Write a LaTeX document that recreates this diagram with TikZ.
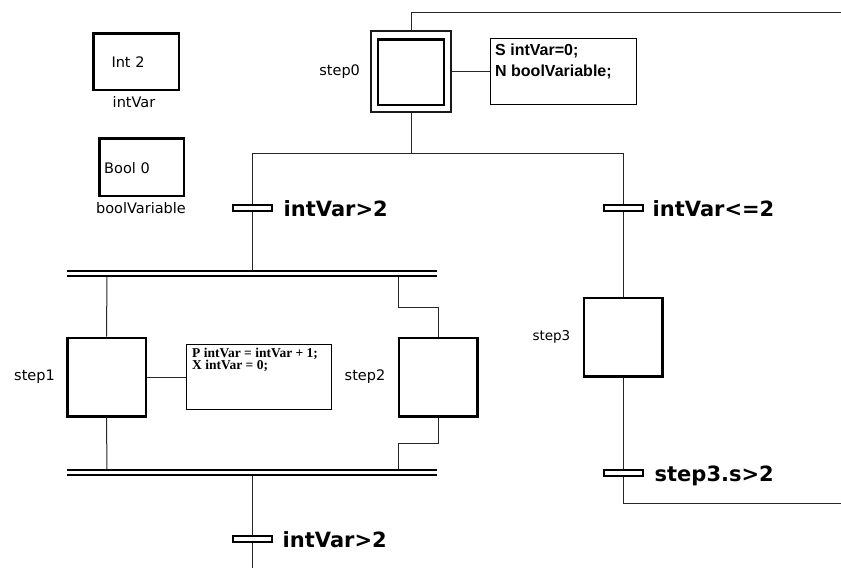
\documentclass[tikz,border=0pt]{standalone}
\usepackage{fontspec}
\setmainfont{DejaVu Sans}
\newfontfamily\actsansfont{Liberation Sans}
\newfontfamily\actseriffont{Liberation Serif}
\usetikzlibrary{calc,positioning}
\begin{document}
\begin{tikzpicture}[x=1pt,y=-1pt,
  conn/.style={line width=1pt, draw=black!85},
  stepbox/.style={draw=black, line width=2.5pt, fill=white, minimum width=78.5pt, minimum height=78.5pt, inner sep=0pt},
  initouter/.style={draw=black!90, line width=2.2pt, fill=white, minimum width=79.5pt, minimum height=80.5pt, inner sep=0pt},
  initinner/.style={draw=black, line width=2.5pt, fill=white, minimum width=66pt, minimum height=65.5pt, inner sep=0pt},
  actbox/.style={draw=black, line width=1.2pt, fill=white, inner sep=0pt},
  varbox/.style={draw=black, line width=2.5pt, inner sep=0pt},
  lbl/.style={font=\fontsize{14.5}{17}\selectfont, inner sep=0pt},
  trbar/.style={draw=black, line width=2pt, fill=white, minimum width=39pt, minimum height=6pt, inner sep=0pt},
  trlbl/.style={font=\fontsize{21}{25}\selectfont\bfseries, inner sep=0pt, anchor=base west},
  syncbar/.style={line width=1.5pt, draw=black}
]
\useasboundingbox (0,0) rectangle (841,568);

% variables
\node[varbox, minimum width=85.5pt, minimum height=56.5pt] (vint) at (136,61.5) {};
\node[lbl] (vinttext) at (128,62) {Int 2};
\node[lbl] (vintname) at (134,102) {intVar};
\node[varbox, minimum width=84.5pt, minimum height=57.5pt] (vbool) at (141.5,167) {};
\node[lbl, anchor=west] (vbooltext) at (104,168) {Bool 0};
\node[lbl] (vboolname) at (141,208) {boolVariable};

% coordinates for the connectors
\coordinate (topright) at (841,12);
\coordinate (topleft) at (411,12);
\coordinate (splitmid) at (411,153);
\coordinate (splitL) at (252,153);
\coordinate (splitR) at (623,153);
\coordinate (sync1top) at (252,271);
\coordinate (s1up) at (107,276);
\coordinate (s2upa) at (398,276);
\coordinate (s2upb) at (398,307);
\coordinate (s2upc) at (438,307);
\coordinate (s1down) at (107,470);
\coordinate (s2dna) at (438,443);
\coordinate (s2dnb) at (398,443);
\coordinate (s2dnc) at (398,470);
\coordinate (sync2bot) at (252,475);
\coordinate (bottomend) at (252,568);
\coordinate (loopa) at (623,503);
\coordinate (loopb) at (841,503);

% step 0
\node[initouter] (step0) at (411,71.5) {};
\node[initinner] (step0in) at (411,72) {};
\node[lbl, left=10pt of step0] (step0lbl) {step0};
\node[actbox, minimum width=146pt, minimum height=66pt] (act0) at (563.5,71.5) {};
\node[anchor=north west, inner sep=0pt, align=left,
      font=\actsansfont\bfseries\fontsize{16}{21.5}\selectfont] (act0text) at (495,43.5)
      {S intVar=0;\\N boolVariable;};

% steps
\node[stepbox] (step1) at (106.5,377) {};
\node[lbl, left=11pt of step1] (step1lbl) {step1};
\node[actbox, minimum width=145pt, minimum height=65pt] (act1) at (259,377) {};
\node[anchor=north west, inner sep=0pt, align=left,
      font=\actseriffont\bfseries\fontsize{13.5}{12.3}\selectfont] (act1text) at (192,348)
      {P intVar = intVar + 1;\\X intVar = 0;};
\node[stepbox] (step2) at (438,377) {};
\node[lbl, left=12pt of step2] (step2lbl) {step2};
\node[stepbox] (step3) at (623,337) {};
\node[lbl, left=12pt of step3, font=\fontsize{13.5}{16}\selectfont] (step3lbl) {step3};

% transitions
\node[trbar] (t1) at (252,208) {};
\node[trbar] (t2) at (623,208) {};
\node[trbar] (t3) at (623,473) {};
\node[trbar] (t4) at (252,539) {};

% connectors
\draw[conn] (step0.north -| topleft) -- (topleft) -- (topright);
\draw[conn] (step0.east) -- (act0.west);
\draw[conn] (step0.south -| splitmid) -- (splitmid);
\draw[conn] (splitL) -- (splitR);
\draw[conn] (splitL) -- (t1.north);
\draw[conn] (t1.south) -- (sync1top);
\draw[conn] (splitR) -- (t2.north);
\draw[conn] (t2.south) -- (step3.north);
\draw[conn] (step3.south) -- (t3.north);
\draw[conn] (t3.south) -- (loopa) -- (loopb);
\draw[conn] (s1up) -- (step1.north);
\draw[conn] (step1.east) -- (act1.west);
\draw[conn] (s2upa) -- (s2upb) -- (s2upc) -- (step2.north);
\draw[conn] (step1.south) -- (s1down);
\draw[conn] (step2.south) -- (s2dna) -- (s2dnb) -- (s2dnc);
\draw[conn] (sync2bot) -- (t4.north);
\draw[conn] (t4.south) -- (bottomend);

% synchronisation bars
\draw[syncbar] (67,271) -- (437,271);
\draw[syncbar] (67,276) -- (437,276);
\draw[syncbar] (67,470) -- (437,470);
\draw[syncbar] (67,475) -- (437,475);

% transition labels
\node[trlbl] (t1lbl) at ($(t1.east)+(11,8.5)$) {intVar>2};
\node[trlbl] (t2lbl) at ($(t2.east)+(9,8.5)$) {intVar<=2};
\node[trlbl] (t3lbl) at ($(t3.east)+(11,8.5)$) {step3.s>2};
\node[trlbl] (t4lbl) at ($(t4.east)+(10,8.5)$) {intVar>2};
\end{tikzpicture}
\end{document}
